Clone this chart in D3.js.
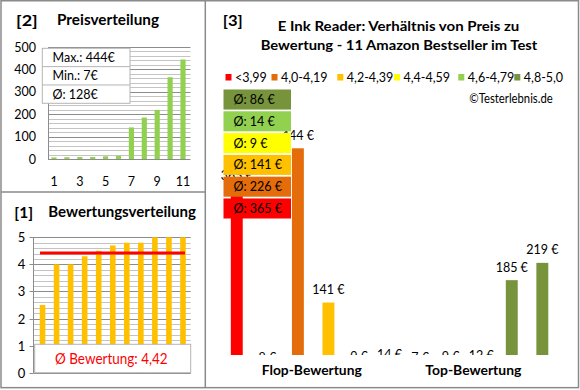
<!DOCTYPE html>
<html><head><meta charset="utf-8">
<script src="https://cdn.jsdelivr.net/npm/d3@7"></script>
<style>body{margin:0;background:#fff}svg{display:block}text{font-family:Lato,"Open Sans",sans-serif}</style>
</head><body><svg id="c" width="580" height="390"></svg>
<script>
// ---- data ----
const mainPrices  = [365, 8, 444, 141, 9, 14, 7, 9, 12, 185, 219];
const mainRatings = [2.5, 4.0, 4.0, 4.3, 4.5, 4.7, 4.8, 4.8, 5.0, 5.0, 5.0];
const classLabels = ["<3,99", "4,0-4,19", "4,2-4,39", "4,4-4,59", "4,6-4,79", "4,8-5,0"];
const classBreaks = [4.0, 4.2, 4.4, 4.6, 4.8];
const classColors = ["#ff0000", "#e46c0a", "#ffc000", "#ffff00", "#92d050", "#77933c"];
const priceTicks  = [0, 100, 200, 300, 400, 500];
const ratingTicks = [0, 1, 2, 3, 4, 5];
const indexTicks  = [1, 3, 5, 7, 9, 11];
const catLabels   = ["Flop-Bewertung", "Top-Bewertung"];

const svg = d3.select("#c");
const de = v => String(v).replace(".", ",");
const priceSorted = mainPrices.slice().sort((a,b)=>a-b);
const ratingSorted = mainRatings.slice().sort((a,b)=>a-b);
const idx = d3.range(1, 12);
const colorOf = d3.scaleThreshold().domain(classBreaks).range(classColors);
const classOf = d3.scaleThreshold().domain(classBreaks).range(d3.range(6));

function fitText(sel, len){ return sel.attr("textLength",len).attr("lengthAdjust","spacingAndGlyphs"); }

// ---- borders ----
const bc = "#8a8a8a";
svg.append("rect").attr("x",1).attr("y",0.75).attr("width",577.5).attr("height",386.9)
  .attr("fill","none").attr("stroke",bc).attr("stroke-width",1.5);
svg.append("line").attr("x1",205.3).attr("x2",205.3).attr("y1",0).attr("y2",388).attr("stroke",bc).attr("stroke-width",1.5);
svg.append("line").attr("x1",1).attr("x2",205.3).attr("y1",192).attr("y2",192).attr("stroke",bc).attr("stroke-width",1.5);

// ================= [2] Preisverteilung =================
const pg = svg.append("g");
fitText(pg.append("text").attr("x",16).attr("y",26).attr("font-size",16).attr("font-weight","bold").text("[2]"),21.7);
fitText(pg.append("text").attr("x",57).attr("y",25).attr("font-size",14.5).attr("font-weight","bold").text("Preisverteilung"),102);
const px = d3.scalePoint().domain(idx).range([47.55,189.45]).padding(0.5);
const py = d3.scaleLinear().domain([0,500]).range([159,47]);
const pMinor = d3.range(0,501,20);
pg.selectAll(".pg").data(pMinor).join("line")
  .attr("x1",48).attr("x2",190.5).attr("y1",d=>Math.round(py(d))+0.5).attr("y2",d=>Math.round(py(d))+0.5)
  .attr("stroke",d=>d%100===0?"#8c8c8c":"#c4c4c4").attr("stroke-width",1);
pg.append("line").attr("x1",48.5).attr("x2",48.5).attr("y1",47).attr("y2",159.5).attr("stroke","#8c8c8c");
pg.selectAll(".pyl").data(priceTicks).join("text")
  .attr("x",36).attr("y",d=>py(d)+4.5).attr("text-anchor","end").attr("font-size",12.5).text(d=>d);
pg.selectAll(".pxl").data(indexTicks).join("text")
  .attr("x",d=>px(d)).attr("y",185.5).attr("text-anchor","middle").attr("font-size",12.5).text(d=>d);
const pbw = px.step()*0.4;
pg.selectAll(".pb").data(priceSorted).join("rect")
  .attr("x",(d,i)=>px(i+1)-pbw/2).attr("width",pbw)
  .attr("y",d=>py(d)).attr("height",d=>py(0)-py(d)).attr("fill","#92d050");
// info box
const info = [
  "Max.: " + d3.max(priceSorted) + "€",
  "Min.: " + d3.min(priceSorted) + "€",
  "Ø: " + Math.round(d3.mean(priceSorted)) + "€"
];
const iy = d3.scaleBand().domain(d3.range(3)).range([48.3,103.3]);
pg.append("rect").attr("x",42.3).attr("y",48.3).attr("width",87.7).attr("height",55).attr("fill","#fff").attr("stroke","#b4b4b4");
pg.selectAll(".isep").data([1,2]).join("line").attr("x1",42.3).attr("x2",130).attr("y1",d=>iy(d)).attr("y2",d=>iy(d)).attr("stroke","#b4b4b4");
pg.selectAll(".it").data(info).join("text").attr("x",52.5).attr("y",(d,i)=>iy(i)+iy.bandwidth()/2+4.5)
  .attr("font-size",12.5).text(d=>d);

// ================= [1] Bewertungsverteilung =================
const rg = svg.append("g");
fitText(rg.append("text").attr("x",14.3).attr("y",217.5).attr("font-size",16).attr("font-weight","bold").text("[1]"),18.7);
fitText(rg.append("text").attr("x",48.3).attr("y",216.5).attr("font-size",14.5).attr("font-weight","bold").text("Bewertungsverteilung"),147.7);
const rx = d3.scalePoint().domain(idx).range([35.5,190]).padding(0.5);
const ry = d3.scaleLinear().domain([0,5]).range([372.7,237.3]);
const rMinor = d3.range(0,26).map(i=>i/5);
rg.selectAll(".rgl").data(rMinor).join("line")
  .attr("x1",33.5).attr("x2",190.7).attr("y1",d=>Math.round(ry(d))+0.5).attr("y2",d=>Math.round(ry(d))+0.5)
  .attr("stroke",(d,i)=>i%5===0?"#8c8c8c":"#c4c4c4");
rg.append("line").attr("x1",33.5).attr("x2",33.5).attr("y1",237).attr("y2",373).attr("stroke","#8c8c8c");
rg.selectAll(".rtk").data(ratingTicks).join("line").attr("x1",29.5).attr("x2",33.5)
  .attr("y1",d=>Math.round(ry(d))+0.5).attr("y2",d=>Math.round(ry(d))+0.5).attr("stroke","#8c8c8c");
rg.selectAll(".ryl").data(ratingTicks).join("text").attr("x",21.5).attr("y",d=>ry(d)+5)
  .attr("text-anchor","middle").attr("font-size",13).text(d=>d);
const rbw = rx.step()*0.4;
rg.selectAll(".rb").data(ratingSorted).join("rect")
  .attr("x",(d,i)=>rx(i+1)-rbw/2).attr("width",rbw)
  .attr("y",d=>ry(d)).attr("height",d=>ry(0)-ry(d)).attr("fill","#ffc000");
const rAvg = d3.mean(ratingSorted);
rg.append("line").attr("x1",rx(1)-2.5).attr("x2",rx(11)+2).attr("y1",ry(rAvg)).attr("y2",ry(rAvg))
  .attr("stroke","#ff0000").attr("stroke-width",3);
rg.append("rect").attr("x",34.7).attr("y",344.3).attr("width",156).attr("height",28.4).attr("fill","#fff").attr("stroke","#b4b4b4");
fitText(rg.append("text").attr("x",55).attr("y",363.5).attr("font-size",14.5).attr("fill","#ff0000")
  .text("Ø Bewertung: " + de(d3.format(".2f")(rAvg))),112.7);

// ================= [3] main =================
const mg = svg.append("g");
fitText(mg.append("text").attr("x",222.7).attr("y",25.5).attr("font-size",16).attr("font-weight","bold").text("[3]"),20);
fitText(mg.append("text").attr("x",277.7).attr("y",31).attr("font-size",14).attr("font-weight","bold")
  .text("E Ink Reader: Verhältnis von Preis zu"),241.6);
fitText(mg.append("text").attr("x",260.7).attr("y",50).attr("font-size",14).attr("font-weight","bold")
  .text("Bewertung - 11 Amazon Bestseller im Test"),276.6);
// legend
const legX = [225.5, 271.5, 337.3, 394, 458.3, 514.3];
const lg = mg.selectAll(".lg").data(classLabels).join("g").attr("transform",(d,i)=>`translate(${legX[i]},77.5)`);
lg.append("rect").attr("x",0).attr("y",-3.5).attr("width",6).attr("height",6.5).attr("fill",(d,i)=>classColors[i]);
lg.append("text").attr("x",9.5).attr("y",4.5).attr("font-size",12.5).text(d=>d);
fitText(mg.append("text").attr("x",469.3).attr("y",102.5).attr("font-size",12.5).text("©Testerlebnis.de"),83.4);

// plot
const mx = d3.scalePoint().domain(d3.range(mainPrices.length)).range([221.5,557.6]).padding(0.5);
const my = d3.scaleLinear().domain([38,444]).range([355,148.3]);
svg.append("defs").append("clipPath").attr("id","pc").append("rect").attr("x",215).attr("y",100).attr("width",360).attr("height",255);
const plot = mg.append("g").attr("clip-path","url(#pc)");
const mbw = mx.step()*0.39;
plot.selectAll(".mb").data(mainPrices).join("rect")
  .attr("x",(d,i)=>mx(i)-mbw/2).attr("width",mbw)
  .attr("y",d=>my(d)).attr("height",d=>Math.max(0,my(38)-my(d)))
  .attr("fill",(d,i)=>colorOf(mainRatings[i]));
plot.selectAll(".ml").data(mainPrices).join("text")
  .attr("x",(d,i)=>mx(i)).attr("y",d=>my(d)-8.5).attr("text-anchor","middle").attr("font-size",12.5)
  .text(d=>d+" €");
const cx = d3.scalePoint().domain(catLabels).range([224.5,560.6]).padding(0.54);
const catW = [100, 96];
mg.selectAll(".cl").data(catLabels).join("text").attr("x",d=>cx(d)).attr("y",374.5)
  .attr("text-anchor","middle").attr("font-size",14).attr("font-weight","bold")
  .attr("textLength",(d,i)=>catW[i]).attr("lengthAdjust","spacingAndGlyphs").text(d=>d);

// average boxes
const classes = d3.range(6).reverse();
const avgs = classes.map(c=>{
  const v = mainPrices.filter((p,i)=>classOf(mainRatings[i])===c);
  return {c, avg: Math.round(d3.mean(v))};
});
const by = d3.scaleBand().domain(classes).range([89.5,218.5]).paddingInner(0.08);
const bg = mg.selectAll(".ab").data(avgs).join("g").attr("transform",d=>`translate(223.5,${by(d.c)})`);
bg.append("rect").attr("width",67.5).attr("height",by.bandwidth()).attr("fill",d=>classColors[d.c]);
bg.append("text").attr("x",10).attr("y",by.bandwidth()/2+4.5).attr("font-size",12.5).text(d=>"Ø: "+d.avg+" €");
</script></body></html>
